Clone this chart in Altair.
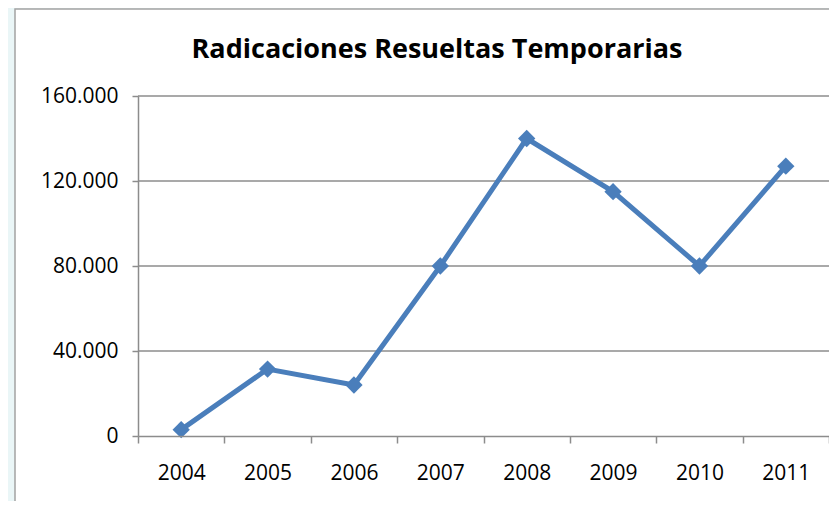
import altair as alt
import pandas as pd

years = ["2004", "2005", "2006", "2007", "2008", "2009", "2010", "2011"]
values = [3000, 31500, 24000, 80000, 140000, 115000, 80000, 127000]
y_ticks = [0, 40000, 80000, 120000, 160000]
title_text = "Radicaciones Resueltas Temporarias"

df = pd.DataFrame({"year": years, "value": values})
grid_df = pd.DataFrame({"v": y_ticks[1:]})

W, H = 691, 340
FONT = "Open Sans"
BLUE = "#4A7EBB"
GRID = "#8C8C8C"

frame = alt.Chart(pd.DataFrame({"k": [0]})).mark_rect(
    fill="white", stroke="#A3A3A3", strokeWidth=1.5
).encode(
    x=alt.value(-123), x2=alt.value(W + 30),
    y=alt.value(-87), y2=alt.value(H + 90)
)

title = alt.Chart(pd.DataFrame({"t": [title_text]})).mark_text(
    font=FONT, fontWeight="bold", fontSize=27, color="black",
    baseline="alphabetic", align="center"
).encode(
    x=alt.value(299), y=alt.value(-38), text="t:N"
)

x_enc = alt.X(
    "year:N", sort=years, title=None,
    scale=alt.Scale(type="band", paddingInner=0, paddingOuter=0),
    axis=alt.Axis(
        tickBand="extent", labelAngle=0, labelFont=FONT, labelFontSize=21,
        labelColor="black", labelPadding=19, tickSize=7, tickColor=GRID,
        domainColor=GRID, domainWidth=1.5, tickWidth=1.5, grid=False, zindex=1,
    ),
)
y_enc = alt.Y(
    "value:Q", title=None,
    scale=alt.Scale(domain=[0, 160000], nice=False),
    axis=alt.Axis(
        values=y_ticks, labelFont=FONT, labelFontSize=21, labelColor="black",
        labelPadding=14, tickSize=6, tickColor=GRID, domainColor=GRID,
        domainWidth=1.5, tickWidth=1.5, grid=False, zindex=1,
        labelExpr="replace(format(datum.value, ',d'), /,/g, '.')",
    ),
)

grid = alt.Chart(grid_df).mark_rule(color=GRID, strokeWidth=1.5).encode(
    y=alt.Y("v:Q", scale=alt.Scale(domain=[0, 160000], nice=False)),
    x=alt.value(0), x2=alt.value(W),
)

line = alt.Chart(df).mark_line(color=BLUE, strokeWidth=5).encode(x=x_enc, y=y_enc)
pts = alt.Chart(df).mark_point(
    shape="diamond", filled=True, color=BLUE, size=300, opacity=1
).encode(x=x_enc, y=y_enc)

chart = alt.layer(frame, title, grid, line, pts).properties(
    width=W, height=H,
    autosize=alt.AutoSizeParams(type="none"),
    padding={"left": 130, "top": 88, "right": 0, "bottom": 65},
).configure(background="#EAF6F7").configure_view(stroke=None)

chart.save("out.html", embed_options={"renderer": "svg", "actions": False})
